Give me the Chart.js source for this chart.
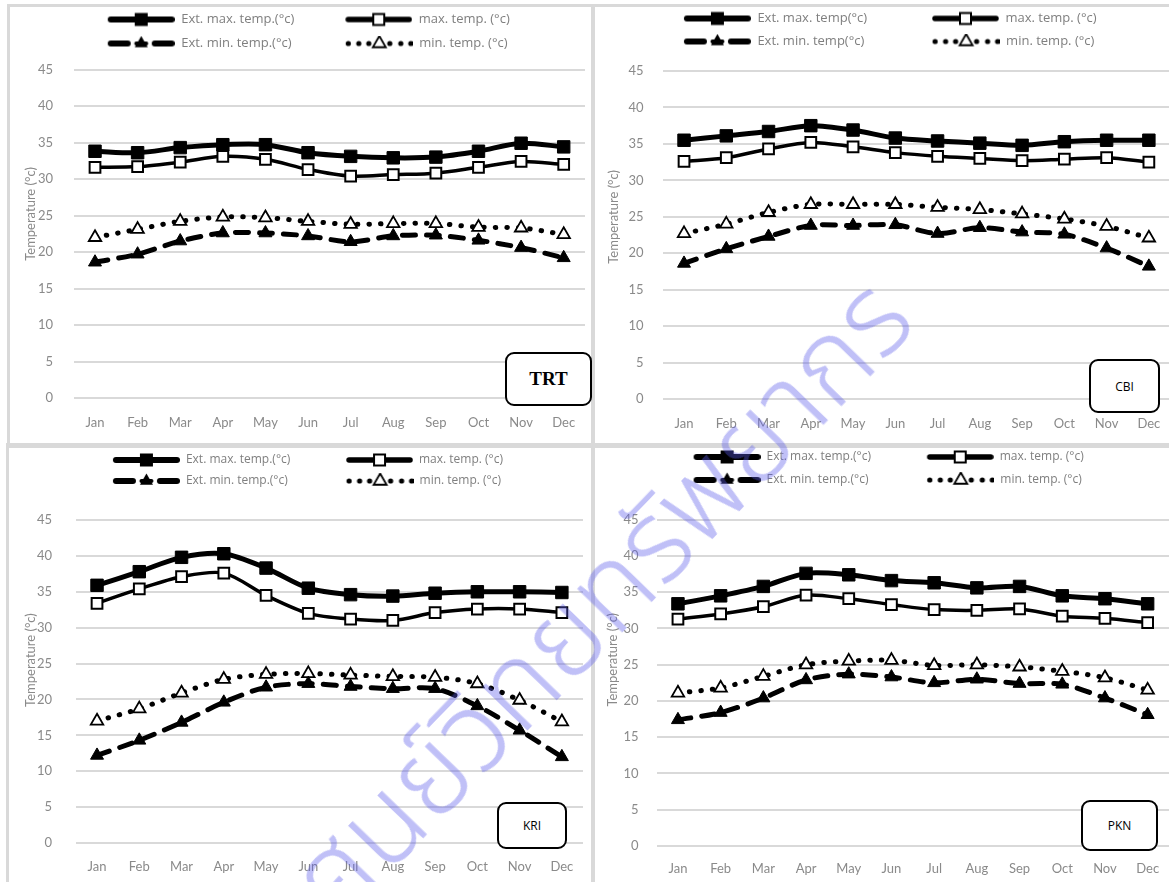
<!DOCTYPE html>
<html><head><meta charset="utf-8">
<script src="https://cdn.jsdelivr.net/npm/chart.js@4.4.1/dist/chart.umd.min.js"></script>
<style>
html,body{margin:0;padding:0;background:#fff;}
body{width:1169px;height:882px;overflow:hidden;position:relative;}
.sep{position:absolute;background:#d9d9d9;}
canvas{position:absolute;}
.tag{position:absolute;border:2px solid #000;border-radius:9px;box-sizing:border-box;display:flex;align-items:center;justify-content:center;background:#fff;color:#000;z-index:5;font-family:"Open Sans",sans-serif;font-size:12px;}
#wm{position:absolute;left:603px;top:602px;transform:translate(-50%,-50%) rotate(-46deg);white-space:nowrap;font-size:114px;color:rgba(90,90,235,0.38);pointer-events:none;z-index:10;font-family:"Noto Sans Thai","Noto Sans",sans-serif;font-weight:300;}
</style></head><body>
<div class="sep" style="left:7px;top:4px;width:1162px;height:3px"></div>
<div class="sep" style="left:7px;top:4px;width:3px;height:442px"></div>
<div class="sep" style="left:6px;top:443px;width:3px;height:439px"></div>
<div class="sep" style="left:591px;top:4px;width:4px;height:878px"></div>
<div class="sep" style="left:6px;top:443px;width:1163px;height:5px"></div>

<canvas id="c0"></canvas><canvas id="c1"></canvas><canvas id="c2"></canvas><canvas id="c3"></canvas>

<div class="tag" style="left:505px;top:352px;width:87px;height:54px;font-family:'Liberation Serif',serif;font-weight:bold;font-size:19px">TRT</div>
<div class="tag" style="left:1089px;top:359px;width:71px;height:54px">CBI</div>
<div class="tag" style="left:497px;top:802px;width:70px;height:47px">KRI</div>
<div class="tag" style="left:1081px;top:800px;width:77px;height:51px">PKN</div>

<div id="wm">ศูนย์วิทยทรัพยากร</div>

<script>
// ---------- data ----------
const months = ['Jan','Feb','Mar','Apr','May','Jun','Jul','Aug','Sep','Oct','Nov','Dec'];
const yMin = 0, yMax = 45, yStep = 5;
const axisTitle = 'Temperature (°c)';
const namesA = ['Ext. max. temp.(°c)','max. temp. (°c)','Ext. min. temp.(°c)','min. temp. (°c)'];
const namesB = ['Ext. max. temp(°c)','max. temp. (°c)','Ext. min. temp(°c)','min. temp. (°c)'];
const stations = ['TRT','CBI','KRI','PKN'];

const trtExtMax = [33.8,33.6,34.3,34.7,34.7,33.6,33.1,32.9,33.0,33.8,34.9,34.4];
const trtMax    = [31.6,31.7,32.3,33.1,32.7,31.3,30.4,30.6,30.8,31.6,32.4,32.0];
const trtExtMin = [18.6,19.7,21.5,22.6,22.6,22.2,21.4,22.2,22.3,21.6,20.6,19.2];
const trtMin    = [22.0,23.1,24.2,24.8,24.7,24.2,23.8,23.9,23.9,23.4,23.3,22.4];

const cbiExtMax = [35.5,36.1,36.7,37.5,36.9,35.8,35.4,35.1,34.8,35.3,35.5,35.5];
const cbiMax    = [32.6,33.1,34.3,35.2,34.6,33.8,33.3,33.0,32.7,32.9,33.1,32.5];
const cbiExtMin = [18.6,20.6,22.3,23.8,23.8,23.9,22.7,23.5,22.9,22.6,20.7,18.2];
const cbiMin    = [22.7,24.0,25.6,26.7,26.7,26.7,26.3,26.0,25.4,24.7,23.7,22.1];

const kriExtMax = [35.9,37.8,39.8,40.3,38.3,35.5,34.6,34.4,34.8,35.0,35.0,34.9];
const kriMax    = [33.4,35.4,37.1,37.6,34.5,32.0,31.2,31.0,32.1,32.6,32.6,32.1];
const kriExtMin = [12.2,14.3,16.8,19.6,21.7,22.2,21.8,21.5,21.5,19.1,15.7,12.0];
const kriMin    = [17.0,18.7,20.9,22.8,23.5,23.6,23.4,23.2,23.1,22.2,19.9,16.9];

const pknExtMax = [33.4,34.5,35.8,37.6,37.4,36.6,36.3,35.6,35.8,34.5,34.1,33.4];
const pknMax    = [31.3,32.0,33.0,34.6,34.1,33.3,32.6,32.5,32.7,31.7,31.4,30.8];
const pknExtMin = [17.4,18.4,20.4,22.9,23.7,23.3,22.5,23.0,22.4,22.3,20.4,18.1];
const pknMin    = [21.1,21.8,23.4,25.0,25.5,25.6,24.9,25.0,24.7,24.1,23.2,21.5];

// ---------- layout (page pixel targets) ----------
const layouts = [
 {plotL:73.7, plotR:585.3, top:70.5, bot:398, titleX:31, titleY:215, labR:53, xLabY:422.7, row1:19, fs:13, pad:11, s1:108, s2:344},
 {plotL:662.9, plotR:1170.1, top:71, bot:399, titleX:614, titleY:216, labR:643.5, xLabY:424, row1:18, fs:13, pad:10, s1:684, s2:930},
 {plotL:75.9, plotR:583.1, top:519, bot:842.7, titleX:31, titleY:660, labR:52, xLabY:866.7, row1:460, fs:12, pad:9, s1:112.8, s2:345.4},
 {plotL:656.6, plotR:1169.4, top:520.7, bot:846, titleX:613, titleY:660, labR:638.5, xLabY:869.3, row1:456.7, fs:12, pad:11, s1:693.6, s2:925}
];
const panelData = [
 [trtExtMax,trtMax,trtExtMin,trtMin],
 [cbiExtMax,cbiMax,cbiExtMin,cbiMin],
 [kriExtMax,kriMax,kriExtMin,kriMin],
 [pknExtMax,pknMax,pknExtMin,pknMin]
];
const panelNames = [namesA, namesB, namesA, namesA];

const SAMPLE = 67;
const FAM = 'Lato';
const LEG_FAM = 'Open Sans';
const TICK_FS = 13, TITLE_FS = 13;
const GREY = '#8a8a8a';
const mctx = document.createElement('canvas').getContext('2d');
function textW(t, fs, fam){ mctx.font = fs + 'px ' + (fam.indexOf(' ')>=0 ? '"'+fam+'"' : fam); return mctx.measureText(t).width; }

function sampleImg(kind, B, m){
  const c = document.createElement('canvas');
  c.width = Math.round(B); c.height = 16;
  const g = c.getContext('2d');
  const y = 8, a = m, b = m + SAMPLE, cx = m + SAMPLE/2;
  g.lineCap = 'round'; g.strokeStyle = '#000'; g.fillStyle = '#000';
  const seg = (x1,x2,w)=>{ g.lineWidth=w; g.beginPath(); g.moveTo(x1,y); g.lineTo(x2,y); g.stroke(); };
  const tri = (r, fill)=>{ g.beginPath(); g.moveTo(cx, y-r); g.lineTo(cx+r*0.866, y+r/2); g.lineTo(cx-r*0.866, y+r/2); g.closePath();
    if(fill){ g.fillStyle='#000'; g.fill(); } else { g.fillStyle='#fff'; g.fill(); g.lineWidth=1.8; g.stroke(); } };
  if(kind===0){ seg(a+3,b-3,6); g.fillRect(cx-6.5,y-6.5,13,13); }
  else if(kind===1){ seg(a+3,b-3,5.5); g.fillStyle='#fff'; g.fillRect(cx-5.5,y-5.5,11,11); g.lineWidth=2; g.strokeRect(cx-5.5,y-5.5,11,11); }
  else if(kind===2){ seg(a+3,a+20,6); seg(b-20,b-3,6); tri(7.5,true); seg(cx-5,cx+5,4); }
  else { g.fillStyle='#000';
    [a+2.5,a+13,a+23,a+44,a+55,a+65].forEach(x=>{ g.beginPath(); g.arc(x,y,2.6,0,Math.PI*2); g.fill(); });
    tri(7.5,false); }
  return c;
}

function build(i){
  const L = layouts[i];
  const CL = Math.round(L.titleX - TITLE_FS*1.2/2 - 4);
  const CT = Math.round(L.row1 - L.pad - L.fs/2);
  const Wy = L.plotL - CL;
  const tickPadY = L.plotL - L.labR;
  const legendH = L.pad + 2*(L.fs + L.pad);
  const extra = L.top - CT - legendH;
  const xPad = L.xLabY - L.bot - TICK_FS*1.2/2;
  const XH = 40, padR = 10;
  const CH = Math.round(L.bot + XH - CT);
  const CW = Math.round(L.plotR + padR - CL);
  const m = Math.max(0, L.s1 - (L.plotL + L.pad));
  const B = Math.round(SAMPLE + m);
  const mm = B - SAMPLE;
  const tw = L.s2 - L.s1 - SAMPLE - L.fs/2 - L.pad - mm;
  const imgs = [0,1,2,3].map(k=>sampleImg(k,B,mm));
  const shift = (L.top + L.bot)/2 - L.titleY;
  const nb = Math.max(0, Math.round(2*shift / textW('\u00a0', TITLE_FS, FAM)));
  const titleText = '\u00a0'.repeat(nb) + axisTitle;

  const cv = document.getElementById('c'+i);
  cv.width = CW; cv.height = CH;
  cv.style.left = CL + 'px'; cv.style.top = CT + 'px';

  const d = panelData[i], names = panelNames[i];
  const base = {borderColor:'#000', backgroundColor:'#000', pointBorderColor:'#000', tension:0.3, borderJoinStyle:'round', pointHoverRadius:0};
  const datasets = [
    Object.assign({}, base, {label:names[0], data:d[0], borderWidth:5, pointStyle:'rect', pointRadius:8.8, pointBackgroundColor:'#000', pointBorderWidth:1}),
    Object.assign({}, base, {label:names[1], data:d[1], borderWidth:3.5, pointStyle:'rect', pointRadius:7.6, pointBackgroundColor:'#fff', pointBorderWidth:2}),
    Object.assign({}, base, {label:names[2], data:d[2], borderWidth:5, borderDash:[13,11], borderCapStyle:'round', pointStyle:'triangle', pointRadius:7.5, pointBackgroundColor:'#000', pointBorderWidth:1}),
    Object.assign({}, base, {label:names[3], data:d[3], borderWidth:5, borderDash:[0.5,11], borderCapStyle:'round', pointStyle:'triangle', pointRadius:7.2, pointBackgroundColor:'#fff', pointBorderWidth:1.8})
  ];

  const legendExtra = {
    id:'legendExtra'+i,
    beforeLayout(chart){
      const lg = chart.legend;
      if(lg && !lg.__patched){
        const f = lg.fit;
        lg.fit = function(){ f.call(this); this.height += extra; };
        lg.__patched = true;
      }
    }
  };

  new Chart(cv, {
    type:'line',
    data:{labels:months, datasets},
    plugins:[legendExtra],
    options:{
      responsive:false, animation:false, devicePixelRatio:1,
      layout:{padding:{left:0, top:0, right:padR, bottom:0}},
      plugins:{
        tooltip:{enabled:false},
        legend:{
          position:'top', align:'start', fullSize:false,
          labels:{
            usePointStyle:true, pointStyleWidth:B, padding:L.pad, color:'#7f7f7f',
            font:{family:LEG_FAM, size:L.fs},
            generateLabels(chart){
              const items = Chart.defaults.plugins.legend.labels.generateLabels(chart);
              items.forEach((it,k)=>{
                it.pointStyle = imgs[k];
                if(k%2===0){ let t = it.text; while(textW(t, L.fs, LEG_FAM) < tw) t += '\u00a0'; it.text = t; }
              });
              return items;
            }
          }
        }
      },
      scales:{
        x:{
          offset:true,
          grid:{display:false, drawTicks:false},
          border:{display:false},
          ticks:{color:GREY, font:{family:FAM, size:TICK_FS}, padding:xPad, maxRotation:0, autoSkip:false},
          afterFit(s){ s.height = XH; }
        },
        y:{
          min:yMin, max:yMax,
          grid:{color:'#d9d9d9', lineWidth:2, drawTicks:false},
          border:{display:false},
          ticks:{stepSize:yStep, color:GREY, font:{family:FAM, size:TICK_FS}, padding:tickPadY},
          title:{display:true, text:titleText, color:GREY, font:{family:FAM, size:TITLE_FS}, padding:{top:4, bottom:0}},
          afterFit(s){ s.width = Wy; }
        }
      }
    }
  });
}
[0,1,2,3].forEach(build);
</script>
</body></html>
